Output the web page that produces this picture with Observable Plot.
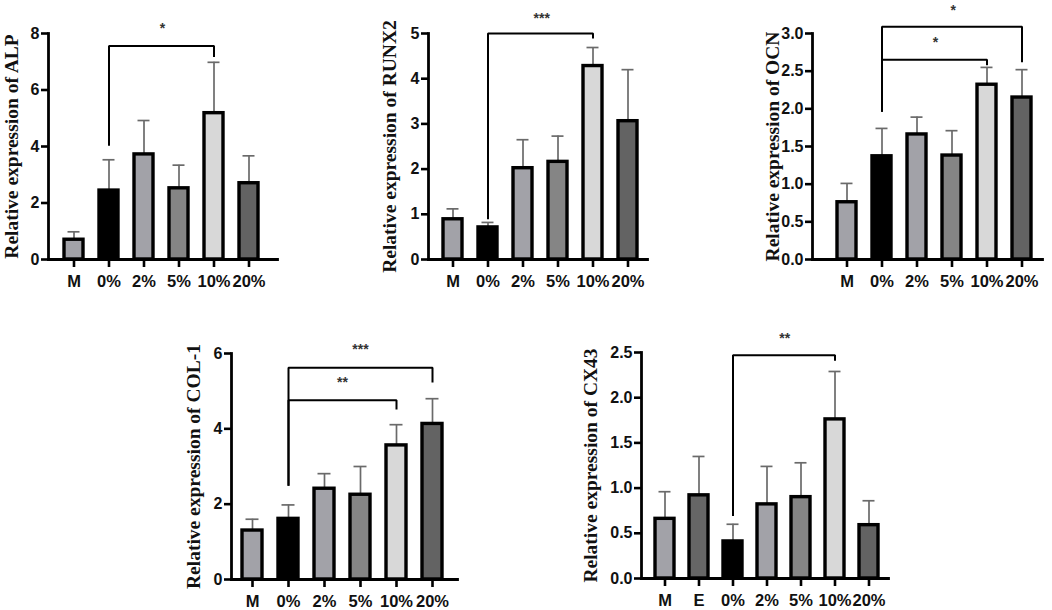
<!DOCTYPE html>
<html>
<head>
<meta charset="utf-8">
<script src="https://cdn.jsdelivr.net/npm/d3@7"></script>
<script src="https://cdn.jsdelivr.net/npm/@observablehq/plot@0.6"></script>
<style>
  html, body { margin: 0; padding: 0; background: #fff; }
  #root { position: relative; width: 1052px; height: 610px; overflow: hidden; background: #fff; }
  .panel { position: absolute; }
  .panel svg { overflow: visible; }
</style>
</head>
<body>
<div id="root"></div>
<script>
// ---------- data ----------
const groups6 = ["M", "0%", "2%", "5%", "10%", "20%"];
const groups7 = ["M", "E", "0%", "2%", "5%", "10%", "20%"];

const alpMean   = [0.70, 2.44, 3.72, 2.52, 5.18, 2.70];
const alpUpper  = [0.98, 3.53, 4.92, 3.34, 6.98, 3.67];
const alpTicks  = [0, 2, 4, 6, 8];

const runx2Mean  = [0.89, 0.71, 2.02, 2.16, 4.28, 3.06];
const runx2Upper = [1.12, 0.82, 2.65, 2.73, 4.69, 4.20];
const runx2Ticks = [0, 1, 2, 3, 4, 5];

const ocnMean  = [0.76, 1.37, 1.66, 1.38, 2.32, 2.15];
const ocnUpper = [1.01, 1.74, 1.89, 1.71, 2.55, 2.52];
const ocnTicks = [0, 0.5, 1.0, 1.5, 2.0, 2.5, 3.0];

const col1Mean  = [1.30, 1.61, 2.41, 2.25, 3.56, 4.13];
const col1Upper = [1.60, 1.98, 2.81, 3.00, 4.11, 4.80];
const col1Ticks = [0, 2, 4, 6];

const cx43Mean  = [0.66, 0.92, 0.41, 0.82, 0.90, 1.76, 0.59];
const cx43Upper = [0.96, 1.35, 0.60, 1.24, 1.28, 2.29, 0.86];
const cx43Ticks = [0, 0.5, 1.0, 1.5, 2.0, 2.5];

// significance brackets: from, to, top, low end at "from", low end at "to", label, label height
const alpSig   = [["0%", "10%", 7.56, 4.03, 7.17, "*", 8.33]];
const runx2Sig = [["0%", "10%", 5.00, 0.89, 4.89, "***", 5.43]];
const ocnSig   = [["0%", "10%", 2.65, 1.96, 2.58, "*", 2.93],
                  ["0%", "20%", 3.09, 1.96, 2.62, "*", 3.36]];
const col1Sig  = [["0%", "10%", 4.76, 2.49, 4.51, "**", 5.33],
                  ["0%", "20%", 5.62, 2.49, 5.23, "***", 6.22]];
const cx43Sig  = [["0%", "10%", 2.47, 0.69, 2.41, "**", 2.70]];

// ---------- style ----------
const fillOf = {
  "M": "#a2a2a8", "E": "#666666", "0%": "#000000", "2%": "#a2a2a8",
  "5%": "#858585", "10%": "#d8d8d8", "20%": "#636363"
};
const SANS = "'Liberation Sans', Arial, sans-serif";
const SERIF = "'Liberation Serif', 'Times New Roman', serif";

function panel(cfg) {
  const {groups, mean, upper, ticks, sig, title, fmt,
         left, top, width, height, mLeft, mRight, mTop, mBottom,
         c0, cN, titleDx} = cfg;
  const n = groups.length;
  const bw = 19.5;
  const step = (cN - c0) / (n - 1);
  const rows = groups.map((g, i) => ({g, mean: mean[i], upper: upper[i]}));
  const ymax = ticks[ticks.length - 1];

  const bracketPts = [];
  sig.forEach(([a, b, t, lowA, lowB], k) => {
    bracketPts.push({k, x: a, y: lowA}, {k, x: a, y: t}, {k, x: b, y: t}, {k, x: b, y: lowB});
  });
  const labels = sig.map(([a, b, t, la, lb, lab, ly]) => ({
    x: a, y: ly, lab, dx: (groups.indexOf(b) - groups.indexOf(a)) / 2 * step
  }));

  const chart = Plot.plot({
    width, height,
    marginLeft: mLeft, marginRight: mRight, marginTop: mTop, marginBottom: mBottom,
    style: {background: "transparent", fontFamily: SANS, overflow: "visible"},
    x: {domain: groups, range: [c0 - bw / 2, cN + bw / 2], paddingInner: 1 - bw / step, paddingOuter: 0, align: 0.5, label: null},
    y: {domain: [0, ymax], label: null},
    marks: [
      Plot.ruleX(rows, {x: "g", y1: "mean", y2: "upper", stroke: "#6a6a6a", strokeWidth: 1.7}),
      Plot.tickY(rows, {x: "g", y: "upper", stroke: "#6a6a6a", strokeWidth: 1.7, insetLeft: 3.5, insetRight: 3.5}),
      Plot.barY(rows, {x: "g", y: "mean", fill: d => fillOf[d.g], stroke: "#000", strokeWidth: 3.4}),
      Plot.line(bracketPts, {x: "x", y: "y", z: "k", stroke: "#000", strokeWidth: 2, strokeLinejoin: "miter", strokeLinecap: "butt"}),
      ...labels.map(l => Plot.text([l], {x: "x", y: "y", text: "lab", dx: l.dx, dy: 4, fontSize: 14, fontWeight: "bold", fill: "#333"})),
      Plot.axisY({ticks, tickFormat: fmt, tickSize: 7, tickPadding: 2, strokeWidth: 2.6, fontSize: 16, fontWeight: "bold", fill: "#111"}),
      Plot.axisX({tickSize: 8, tickPadding: 8, strokeWidth: 2.6, fontSize: 16.5, fontWeight: "bold", fill: "#111"}),
      Plot.frame({anchor: "left", stroke: "#000", strokeWidth: 2.8}),
      Plot.frame({anchor: "bottom", stroke: "#000", strokeWidth: 2.8}),
      Plot.text([title], {frameAnchor: "left", dx: titleDx, rotate: -90, fontFamily: SERIF, fontWeight: "bold", fontSize: 19.5, fill: "#111", textAnchor: "middle"})
    ]
  });
  const div = document.createElement("div");
  div.className = "panel";
  div.style.left = left + "px";
  div.style.top = top + "px";
  div.appendChild(chart);
  document.getElementById("root").appendChild(div);
}

const f0 = d3.format("d");
const f1 = d3.format(".1f");

panel({groups: groups6, mean: alpMean, upper: alpUpper, ticks: alpTicks, sig: alpSig, fmt: f0,
  title: "Relative expression of ALP",
  left: 0, top: 0, width: 290, height: 300, mLeft: 48, mRight: 13, mTop: 33, mBottom: 41,
  c0: 72, cN: 250, titleDx: -37});

panel({groups: groups6, mean: runx2Mean, upper: runx2Upper, ticks: runx2Ticks, sig: runx2Sig, fmt: f0,
  title: "Relative expression of RUNX2",
  left: 360, top: 0, width: 300, height: 300, mLeft: 68, mRight: 13, mTop: 33, mBottom: 41,
  c0: 91, cN: 270, titleDx: -39});

panel({groups: groups6, mean: ocnMean, upper: ocnUpper, ticks: ocnTicks, sig: ocnSig, fmt: f1,
  title: "Relative expression of OCN",
  left: 730, top: 0, width: 322, height: 300, mLeft: 82, mRight: 10, mTop: 33, mBottom: 41,
  c0: 115, cN: 293, titleDx: -40});

panel({groups: groups6, mean: col1Mean, upper: col1Upper, ticks: col1Ticks, sig: col1Sig, fmt: f0,
  title: "Relative expression of COL-1",
  left: 170, top: 305, width: 300, height: 305, mLeft: 61, mRight: 13, mTop: 48, mBottom: 31,
  c0: 82, cN: 262, titleDx: -38});

panel({groups: groups7, mean: cx43Mean, upper: cx43Upper, ticks: cx43Ticks, sig: cx43Sig, fmt: f1,
  title: "Relative expression of CX43",
  left: 550, top: 305, width: 340, height: 305, mLeft: 91, mRight: 2, mTop: 47, mBottom: 32,
  c0: 113, cN: 320, titleDx: -51});
</script>
</body>
</html>
